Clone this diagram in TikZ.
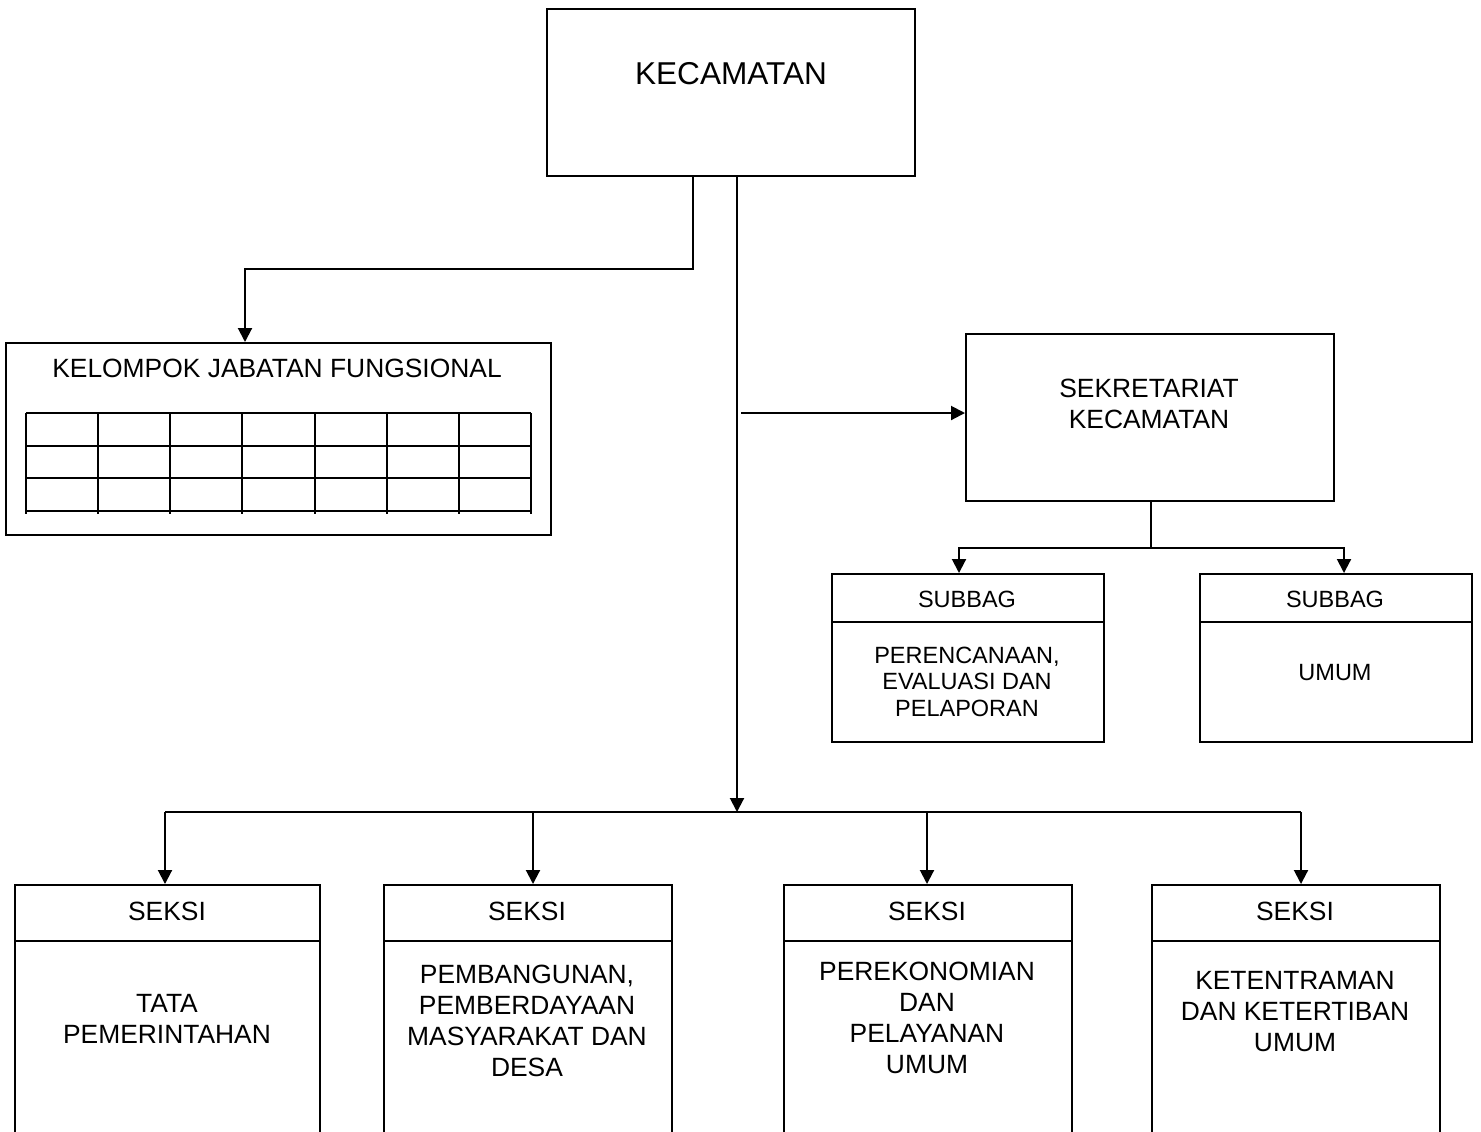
\documentclass[tikz,border=0pt]{standalone}
\usepackage{fontspec}
\setmainfont{Liberation Sans}
\usetikzlibrary{arrows.meta}
\begin{document}
\begin{tikzpicture}[x=0.5pt,y=-0.5pt,
  box/.style={draw, line width=1pt, anchor=north west, inner sep=0pt},
  txt/.style={inner sep=0pt, align=center, font=\fontsize{13.2}{15.5}\selectfont},
  smalltxt/.style={inner sep=0pt, align=center, font=\fontsize{11.75}{13.25}\selectfont},
  conn/.style={line width=1pt},
  arr/.style={line width=1pt, -{Triangle[length=7pt,width=7pt]}}]
\useasboundingbox (0,0) rectangle (1481,1131);
\clip (0,0) rectangle (1481,1131);

% KECAMATAN
\node[box, minimum width=184pt, minimum height=83.5pt] (kec) at (546,8) {};
\node[inner sep=0pt, font=\fontsize{15.8}{18}\selectfont] (kectxt) at (731,74) {KECAMATAN};

% Kelompok jabatan fungsional
\node[box, minimum width=272.5pt, minimum height=96pt] (kjf) at (5,342) {};
\node[txt] (kjftxt) at (277,368) {KELOMPOK JABATAN FUNGSIONAL};
\foreach \i in {0,...,3}
  \draw[conn] (26,413+32.67*\i) -- (531,413+32.67*\i);
\foreach \j in {0,...,7}
  \draw[conn] (26+72.14*\j,413) -- (26+72.14*\j,514);

% Sekretariat
\node[box, minimum width=184pt, minimum height=83.5pt] (sek) at (965,333) {};
\node[txt] (sektxt) at (1149,403.5) {SEKRETARIAT\\KECAMATAN};

% Subbag boxes
\node[box, minimum width=136pt, minimum height=84pt] (subl) at (831,573) {};
\draw[conn] ([yshift=-24.5pt]subl.north west) -- ([yshift=-24.5pt]subl.north east);
\node[smalltxt] (sublh) at (967,599) {SUBBAG};
\node[smalltxt] (sublb) at (967,681.5) {PERENCANAAN,\\EVALUASI DAN\\PELAPORAN};

\node[box, minimum width=136pt, minimum height=84pt] (subr) at (1199,573) {};
\draw[conn] ([yshift=-24.5pt]subr.north west) -- ([yshift=-24.5pt]subr.north east);
\node[smalltxt] (subrh) at (1335,599) {SUBBAG};
\node[smalltxt] (subrb) at (1335,673) {UMUM};

% Seksi boxes
\node[box, minimum width=152.5pt, minimum height=128pt] (s1) at (14,884) {};
\node[box, minimum width=144pt, minimum height=128pt] (s2) at (383,884) {};
\node[box, minimum width=144pt, minimum height=128pt] (s3) at (783,884) {};
\node[box, minimum width=144pt, minimum height=128pt] (s4) at (1151,884) {};
\foreach \s in {s1,s2,s3,s4}
  \draw[conn] ([yshift=-28.5pt]\s.north west) -- ([yshift=-28.5pt]\s.north east);
\node[txt] (s1h) at (167,911) {SEKSI};
\node[txt] (s2h) at (527,911) {SEKSI};
\node[txt] (s3h) at (927,911) {SEKSI};
\node[txt] (s4h) at (1295,911) {SEKSI};
\node[txt] (s1b) at (167,1019) {TATA\\PEMERINTAHAN};
\node[txt] (s2b) at (527,1021) {PEMBANGUNAN,\\PEMBERDAYAAN\\MASYARAKAT DAN\\DESA};
\node[txt] (s3b) at (927,1018) {PEREKONOMIAN\\DAN\\PELAYANAN\\UMUM};
\node[txt] (s4b) at (1295,1012) {KETENTRAMAN\\DAN KETERTIBAN\\UMUM};

% Connectors
\coordinate (t1) at (693,269);
\coordinate (t2) at (245,269);
\draw[arr] (kec.south -| t1) -- (t1) -- (t2) -- (t2 |- kjf.north);

\coordinate (bus) at (737,812);
\draw[arr] (kec.south -| bus) -- (bus);

\coordinate (s0) at (741,413);
\draw[arr] (s0) -- (s0 -| sek.west);

\coordinate (sb) at (1151,548);
\coordinate (sbl) at (959,548);
\coordinate (sbr) at (1344,548);
\draw[conn] (sek.south -| sb) -- (sb);
\draw[arr] (sb) -| (subl.north -| sbl);
\draw[arr] (sb) -| (subr.north -| sbr);

\coordinate (b1) at (165,812);
\coordinate (b2) at (533,812);
\coordinate (b3) at (927,812);
\coordinate (b4) at (1301,812);
\draw[conn] (b1) -- (b4);
\draw[arr] (b1) -- (b1 |- s1.north);
\draw[arr] (b2) -- (b2 |- s2.north);
\draw[arr] (b3) -- (b3 |- s3.north);
\draw[arr] (b4) -- (b4 |- s4.north);
\end{tikzpicture}
\end{document}
